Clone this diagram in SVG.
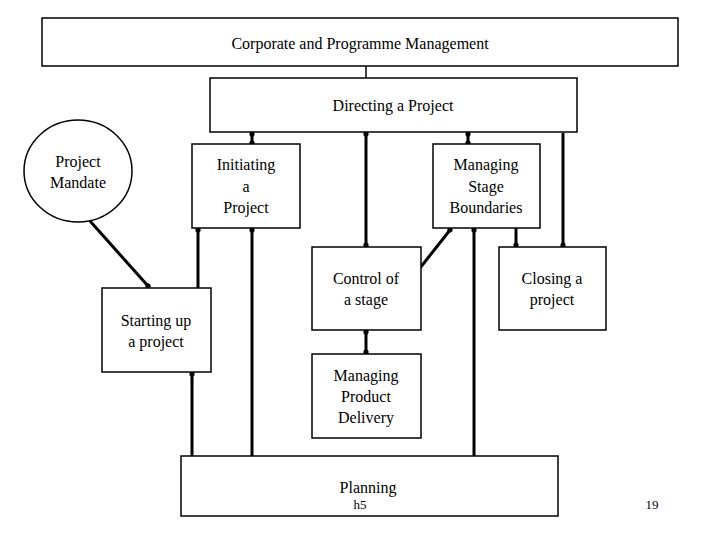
<svg xmlns="http://www.w3.org/2000/svg" width="720" height="540" viewBox="0 0 720 540">
<style>
.box{fill:#fff;stroke:#000;stroke-width:1.5}
text{font-family:'Liberation Serif','Times New Roman','DejaVu Serif',serif;fill:#000;text-anchor:middle}
.t{font-size:16px}
.s{font-size:13px}
.c{stroke:#000;stroke-width:3;fill:none}
.thin{stroke:#000;stroke-width:1.5;fill:none}
</style>
<defs>
<marker id="d" markerUnits="userSpaceOnUse" markerWidth="8" markerHeight="8" refX="4" refY="4" orient="auto">
<circle cx="4" cy="4" r="2.6" fill="#000"/>
</marker>
</defs>
<rect width="720" height="540" fill="#fff"/>
<g id="connectors">
<line class="thin" x1="366" y1="66" x2="366" y2="78"/>
<line class="c" x1="252" y1="134" x2="252" y2="143" marker-start="url(#d)" marker-end="url(#d)"/>
<line class="c" x1="468" y1="134" x2="468" y2="143" marker-start="url(#d)" marker-end="url(#d)"/>
<line class="c" x1="366" y1="134" x2="366" y2="245" marker-start="url(#d)" marker-end="url(#d)"/>
<line class="c" x1="563" y1="133" x2="563" y2="245" marker-end="url(#d)"/>
<line class="c" x1="90" y1="221" x2="148" y2="286" marker-end="url(#d)"/>
<line class="c" x1="198" y1="230" x2="198" y2="288" marker-start="url(#d)"/>
<line class="c" x1="252" y1="230" x2="252" y2="456" marker-start="url(#d)"/>
<line class="c" x1="192" y1="374" x2="192" y2="456" marker-start="url(#d)"/>
<line class="c" x1="420" y1="268" x2="450" y2="230" marker-end="url(#d)"/>
<line class="c" x1="474" y1="230" x2="474" y2="456" marker-start="url(#d)"/>
<line class="c" x1="516" y1="228" x2="516" y2="245" marker-end="url(#d)"/>
<line class="c" x1="366" y1="332" x2="366" y2="352" marker-start="url(#d)" marker-end="url(#d)"/>
</g>
<g id="corporate">
<rect class="box" x="42" y="18" width="636" height="48"/>
<text class="t" x="360" y="49" font-family="Liberation Serif, serif">Corporate and Programme Management</text>
</g>
<g id="directing">
<rect class="box" x="210" y="78" width="367" height="54"/>
<text class="t" x="393" y="111">Directing a Project</text>
</g>
<g id="mandate">
<ellipse class="box" cx="78" cy="171" rx="54" ry="51" stroke-width="1"/>
<text class="t" x="78" y="167">Project</text>
<text class="t" x="78" y="188">Mandate</text>
</g>
<g id="initiating">
<rect class="box" x="192" y="144" width="108" height="84"/>
<text class="t" x="246" y="170">Initiating</text>
<text class="t" x="246" y="192">a</text>
<text class="t" x="246" y="213">Project</text>
</g>
<g id="msb">
<rect class="box" x="433" y="144" width="107" height="84"/>
<text class="t" x="486" y="170">Managing</text>
<text class="t" x="486" y="192">Stage</text>
<text class="t" x="486" y="213">Boundaries</text>
</g>
<g id="control">
<rect class="box" x="312" y="247" width="109" height="83"/>
<text class="t" x="366" y="284">Control of</text>
<text class="t" x="366" y="305">a stage</text>
</g>
<g id="closing">
<rect class="box" x="499" y="247" width="107" height="83"/>
<text class="t" x="552" y="284">Closing a</text>
<text class="t" x="552" y="305">project</text>
</g>
<g id="startup">
<rect class="box" x="102" y="288" width="109" height="84"/>
<text class="t" x="156" y="326">Starting up</text>
<text class="t" x="156" y="347">a project</text>
</g>
<g id="mpd">
<rect class="box" x="312" y="354" width="109" height="84"/>
<text class="t" x="366" y="381">Managing</text>
<text class="t" x="366" y="402">Product</text>
<text class="t" x="366" y="423">Delivery</text>
</g>
<g id="planning">
<rect class="box" x="181" y="456" width="377" height="60"/>
<text class="t" x="368" y="493">Planning</text>
<text class="s" x="360" y="509">h5</text>
</g>
<text class="s" x="652" y="509">19</text>
</svg>
